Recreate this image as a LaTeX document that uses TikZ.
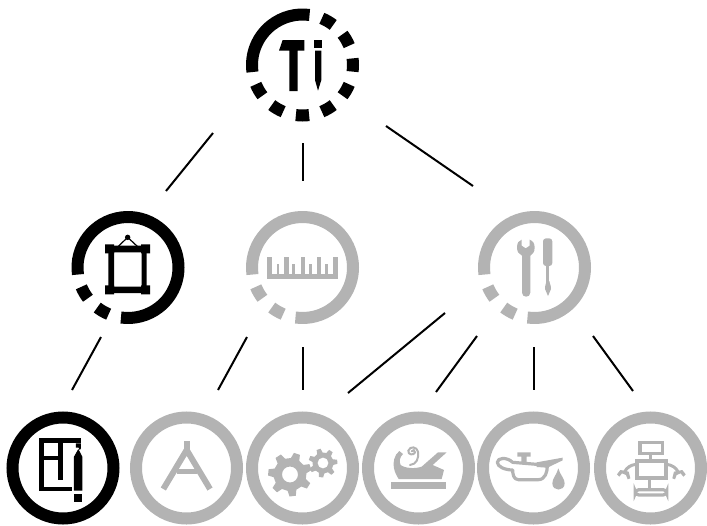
\documentclass[tikz,border=0pt]{standalone}
\definecolor{gy}{HTML}{B3B3B3}
\newcommand{\ringarc}[4]{% node, start, end, colour
  \draw[line width=12pt,#4] ([shift={(#2:50.5pt)}]#1.center) arc[start angle=#2,end angle=#3,radius=50.5pt];}
\newcommand{\gearshape}[7]{% x,y,ro,rb,rh,n,rot
  \pgfmathsetmacro{\pp}{360/#6}
  \begin{scope}[shift={(#1,#2)}]
  \fill[gy,even odd rule] (#7-0.3*\pp:#4pt)
    \foreach \i in {1,...,#6}{
      \pgfextra{\pgfmathsetmacro{\tt}{#7+(\i-1)*\pp}}
      -- ({\tt-0.3*\pp}:#4pt) -- ({\tt-0.16*\pp}:#3pt) -- ({\tt+0.16*\pp}:#3pt) -- ({\tt+0.3*\pp}:#4pt)
    } -- cycle (0,0) circle[radius=#5pt];
  \end{scope}}
\tikzset{
  x=1pt,y=-1pt,
  hub/.style={circle,inner sep=0pt,minimum size=113pt},
  solidring/.style={hub,draw=#1,line width=12pt,minimum size=101pt},
  link/.style={draw=black,line width=2pt},
  z/.style 2 args={shift={(#1,#2)},x=0.33333pt,y=-0.33333pt},
}
\begin{document}
\begin{tikzpicture}
\useasboundingbox (0,0) rectangle (707,525);
% ---- hubs
\node[hub] (top) at (302.5,65) {};
\node[hub] (ml) at (128,267.5) {};
\node[hub] (mc) at (302.5,267.5) {};
\node[hub] (mr) at (534.5,267.5) {};
\node[solidring=black] (b1) at (63,468) {};
\node[solidring=gy] (b2) at (186.5,468) {};
\node[solidring=gy] (b3) at (302.5,468) {};
\node[solidring=gy] (b4) at (418.5,468) {};
\node[solidring=gy] (b5) at (533.5,468) {};
\node[solidring=gy] (b6) at (650.5,468) {};
% ---- rings with gaps
\ringarc{top}{188}{82}{black}
\foreach \a in {60,30,0,-30,-60,-90,-120,-150}{\ringarc{top}{\a+7.5}{\a-7.5}{black}}
\ringarc{ml}{188}{-98}{black}
\foreach \a in {-120,-150}{\ringarc{ml}{\a+7.5}{\a-7.5}{black}}
\ringarc{mc}{188}{-98}{gy}
\foreach \a in {-120,-150}{\ringarc{mc}{\a+7.5}{\a-7.5}{gy}}
\ringarc{mr}{188}{-98}{gy}
\foreach \a in {-120,-150}{\ringarc{mr}{\a+7.5}{\a-7.5}{gy}}
% ---- connector ends
\coordinate (t1) at (213,133); \coordinate (ml1) at (166,191);
\coordinate (t2) at (303,143); \coordinate (mc1) at (303,181);
\coordinate (t3) at (386,126); \coordinate (mr1) at (473,186);
\coordinate (ml2) at (101,337); \coordinate (b1a) at (72,390);
\coordinate (mc2) at (247,337); \coordinate (b2a) at (218,390);
\coordinate (mc3) at (303,347); \coordinate (b3a) at (303,390);
\coordinate (mr2) at (445,313); \coordinate (b4a) at (348,393);
\coordinate (mr3) at (477,336); \coordinate (b4b) at (436,392);
\coordinate (mr4) at (534,347); \coordinate (b5a) at (534,390);
\coordinate (mr5) at (593,336); \coordinate (b6a) at (633,391);
\draw[link] (t1) -- (ml1);
\draw[link] (t2) -- (mc1);
\draw[link] (t3) -- (mr1);
\draw[link] (ml2) -- (b1a);
\draw[link] (mc2) -- (b2a);
\draw[link] (mc3) -- (b3a);
\draw[link] (mr2) -- (b4a);
\draw[link] (mr3) -- (b4b);
\draw[link] (mr4) -- (b5a);
\draw[link] (mr5) -- (b6a);
% ---- Ti logo
\begin{scope}[z={235}{0}]
\fill[black] (143,120) -- (208,120) -- (208,152) -- (188,152) -- (188,273) -- (163,273) -- (163,152) -- (132,152) -- cycle;
\fill[black] (237,120) rectangle (261,145);
\fill[black] (240,152) -- (259,152) -- (259,240) -- (249,272) -- (240,240) -- cycle;
\end{scope}
% ---- picture frame
\begin{scope}[z={60}{205}]
\fill[black,even odd rule] (145,122) rectangle (260,264) (162,142) rectangle (245,245);
\fill[black] (135,118) rectangle (162,145) (243,118) rectangle (270,145)
  (135,241) rectangle (162,268) (243,241) rectangle (270,268);
\draw[black,line width=1.2pt] (175,124) -- (203,97) -- (232,124);
\fill[black] (203,97) circle[radius=2.7pt];
\end{scope}
% ---- ruler
\begin{scope}[z={240}{205}]
\fill[gy] (82,207) rectangle (293,222);
\foreach \x in {82,133,182,230,279}{\fill[gy] (\x,157) rectangle (\x+14,210);}
\foreach \x in {110,157,207,255}{\fill[gy] (\x,177) rectangle (\x+8,210);}
\end{scope}
% ---- wrench and screwdriver
\begin{scope}[z={473}{205}]
\fill[gy] (132,128) .. controls (132,112) and (138,107) .. (146,104) -- (146,122) -- (158,130) -- (170,122) -- (170,104) .. controls (180,108) and (185,115) .. (185,128) .. controls (185,142) and (178,148) .. (172,152) -- (172,263) .. controls (172,279) and (147,279) .. (147,263) -- (147,152) .. controls (138,148) and (132,140) .. (132,128) -- cycle;
\fill[gy,rounded corners=3pt] (210,100) rectangle (238,183);
\fill[gy] (220,180) rectangle (229,232);
\fill[gy] (220,228) -- (229,228) .. controls (231,240) and (236,245) .. (234,252) -- (225,273) -- (216,252) .. controls (214,245) and (219,240) .. (220,228) -- cycle;
\end{scope}
% ---- plan + pencil
\begin{scope}[z={0}{405}]
\fill[black] (118,100) rectangle (243,115);
\fill[black] (228,115) -- (243,115) -- (243,130) -- (228,150) -- cycle;
\fill[black] (118,100) rectangle (133,258);
\fill[black] (118,245) rectangle (215,258);
\fill[black] (133,152) rectangle (190,165);
\fill[black] (175,115) rectangle (190,225);
\fill[white] (224,128) -- (235,128) -- (251,158) -- (251,261) -- (218,261) -- (218,158) -- cycle;
\fill[black] (222,155) -- (235,132) -- (247,155) -- (247,257) -- (222,257) -- cycle;
\fill[black] (222,267) rectangle (247,290);
\end{scope}
% ---- compasses
\begin{scope}[z={0}{405}]
\fill[gy] (551,108) rectangle (570,140);
\draw[gy,line width=6pt] (490,252) -- (560,135) -- (630,252);
\draw[gy,line width=5pt] (530,198) -- (592,198);
\end{scope}
% ---- gears
\gearshape{290}{474.5}{22}{16.5}{8}{7}{20}
\gearshape{323}{463}{14.5}{10.5}{5.5}{7}{5}
% ---- plane
\begin{scope}[z={240}{405}]
\fill[gy] (452,230) rectangle (617,252);
\fill[gy] (478,138) .. controls (462,150) and (458,175) .. (462,190) .. controls (465,205) and (472,215) .. (476,222) -- (605,222) -- (612,195) -- (578,180) -- (620,142) -- (594,142) -- (545,185) .. controls (525,192) and (495,190) .. (482,180) .. controls (476,170) and (480,155) .. (489,147) -- cycle;
\draw[gy,line width=2pt,line cap=round] (510,180) .. controls (530,178) and (537,160) .. (534,140) .. controls (531,125) and (510,122) .. (505,137) .. controls (503,150) and (522,152) .. (525,142) .. controls (526,135) and (517,133) .. (515,139);
\end{scope}
% ---- oil can
\begin{scope}[z={470}{405}]
\draw[gy,line width=3.2pt,line join=round] (128,172) -- (200,178) -- (232,183) .. controls (232,200) and (226,224) .. (205,224) -- (145,224) .. controls (130,224) and (128,205) .. (128,195) .. controls (105,195) and (82,185) .. (82,172) .. controls (82,158) and (110,155) .. (128,172) -- cycle;
\fill[gy] (142,142) rectangle (182,155) (154,155) rectangle (170,173);
\fill[gy] (200,172) -- (278,158) -- (278,166) -- (232,188) -- (200,186) -- cycle;
\fill[gy] (265,190) .. controls (270,210) and (284,220) .. (284,235) .. controls (284,260) and (247,260) .. (247,235) .. controls (247,220) and (260,210) .. (265,190) -- cycle;
\end{scope}
% ---- robot
\begin{scope}[z={470}{405}]
\draw[gy,line width=3.2pt] (510,113) rectangle (578,146);
\fill[gy] (536,146) rectangle (545,165);
\draw[gy,line width=4pt] (500,168) rectangle (588,218);
\fill[gy] (533,218) rectangle (542,252);
\draw[gy,line width=3.2pt,rounded corners=3.5pt] (496,254) rectangle (590,270);
\draw[gy,line width=3pt] (497,178) .. controls (482,180) and (470,188) .. (464,200);
\draw[gy,line width=3pt] (590,178) .. controls (606,180) and (618,188) .. (624,200);
\fill[gy] (441,208) -- (451,195) -- (476,200) -- (481,220) -- (473,223) -- (468,210) -- (456,205) -- (448,215) -- cycle;
\fill[gy] (647,208) -- (637,195) -- (612,200) -- (607,220) -- (615,223) -- (620,210) -- (632,205) -- (640,215) -- cycle;
\end{scope}
\end{tikzpicture}
\end{document}
